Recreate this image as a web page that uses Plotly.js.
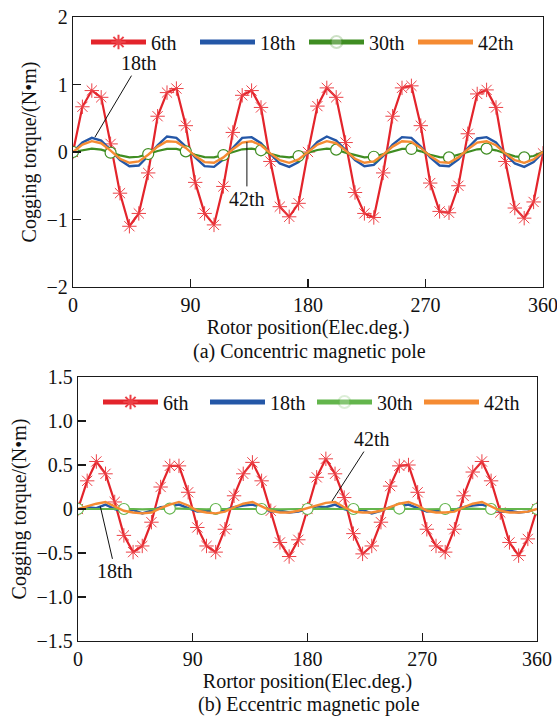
<!DOCTYPE html>
<html><head><meta charset="utf-8">
<script src="https://cdn.plot.ly/plotly-3.0.1.min.js"></script>
<style>html,body{margin:0;padding:0;background:#fff;}#chart{width:557px;height:717px;}</style>
</head><body><div id="chart"></div>
<script>
// rotor position samples (electrical degrees)
const angle = [0,7.2,14.4,21.6,28.8,36,43.2,50.4,57.6,64.8,72,79.2,86.4,93.6,100.8,108,115.2,122.4,129.6,136.8,144,151.2,158.4,165.6,172.8,180,187.2,194.4,201.6,208.8,216,223.2,230.4,237.6,244.8,252,259.2,266.4,273.6,280.8,288,295.2,302.4,309.6,316.8,324,331.2,338.4,345.6,352.8,360];
const seriesNames = ["6th","18th","30th","42th"];
const xTicks = [0,90,180,270,360];

// (a) Concentric magnetic pole
const concentric6th  = [0.00,0.67,0.91,0.81,0.12,-0.61,-1.10,-0.91,-0.31,0.53,0.88,0.94,0.39,-0.45,-0.91,-1.08,-0.51,0.29,0.84,0.91,0.66,-0.14,-0.81,-0.96,-0.76,0.00,0.68,0.95,0.81,0.14,-0.60,-0.91,-0.97,-0.31,0.53,0.95,0.98,0.39,-0.46,-0.88,-0.90,-0.50,0.27,0.86,0.92,0.66,-0.14,-0.83,-0.98,-0.74,-0.02];
const concentric18th = [0.00,0.14,0.21,0.17,0.03,-0.12,-0.21,-0.20,-0.06,0.10,0.23,0.21,0.08,-0.08,-0.21,-0.22,-0.11,0.06,0.21,0.22,0.13,-0.03,-0.17,-0.22,-0.15,0.00,0.15,0.23,0.17,0.03,-0.12,-0.21,-0.19,-0.06,0.11,0.22,0.21,0.08,-0.08,-0.20,-0.21,-0.11,0.06,0.20,0.22,0.14,-0.03,-0.17,-0.22,-0.15,0.00];
const concentric30th = [0.00,0.03,0.05,0.035,-0.01,-0.05,-0.08,-0.07,-0.03,0.015,0.045,0.045,0.01,-0.04,-0.075,-0.08,-0.045,0.00,0.04,0.05,0.025,-0.025,-0.065,-0.08,-0.06,-0.01,0.03,0.05,0.035,-0.01,-0.05,-0.08,-0.07,-0.03,0.015,0.045,0.045,0.01,-0.04,-0.075,-0.08,-0.045,0.00,0.04,0.05,0.025,-0.025,-0.065,-0.08,-0.06,0.00];
const concentric42th = [0.00,0.11,0.16,0.13,0.02,-0.10,-0.16,-0.14,-0.04,0.08,0.16,0.15,0.06,-0.06,-0.15,-0.16,-0.08,0.04,0.14,0.16,0.10,-0.02,-0.12,-0.16,-0.11,0.00,0.11,0.16,0.13,0.02,-0.10,-0.16,-0.14,-0.04,0.08,0.16,0.15,0.06,-0.06,-0.15,-0.16,-0.08,0.04,0.14,0.16,0.10,-0.02,-0.12,-0.16,-0.11,0.00];

// (b) Eccentric magnetic pole
const eccentric6th  = [0.00,0.32,0.54,0.40,0.08,-0.30,-0.49,-0.42,-0.15,0.25,0.49,0.49,0.19,-0.21,-0.42,-0.49,-0.23,0.15,0.40,0.53,0.32,-0.02,-0.38,-0.54,-0.35,0.00,0.36,0.57,0.40,0.13,-0.28,-0.51,-0.42,-0.15,0.26,0.49,0.50,0.19,-0.23,-0.42,-0.49,-0.23,0.15,0.42,0.54,0.32,-0.04,-0.38,-0.53,-0.34,0.00];
const eccentric18th = [0.00,0.02,0.01,0.05,0.00,-0.03,-0.01,-0.05,-0.02,0.02,0.03,0.05,0.01,-0.03,-0.02,-0.04,-0.01,0.02,0.04,0.05,0.02,-0.03,-0.02,-0.04,-0.03,0.00,0.03,0.02,0.05,0.00,-0.03,-0.01,-0.05,-0.02,0.02,0.03,0.05,0.01,-0.03,-0.02,-0.04,-0.01,0.02,0.04,0.05,0.02,-0.03,-0.02,-0.04,-0.03,0.00];
const eccentric30th = [0.00,0.00,0.005,0.005,0.00,0.00,0.00,-0.005,0.00,0.00,0.005,0.005,0.00,0.00,-0.005,0.00,0.00,0.00,0.005,0.005,0.00,0.00,-0.005,0.00,0.00,0.00,0.005,0.005,0.00,0.00,0.00,-0.005,0.00,0.00,0.005,0.005,0.00,0.00,-0.005,0.00,0.00,0.00,0.005,0.005,0.00,0.00,-0.005,0.00,0.00,0.00,0.00];
const eccentric42th = [0.00,0.03,0.06,0.08,0.03,-0.02,-0.04,-0.05,-0.04,0.01,0.05,0.08,0.04,-0.02,-0.04,-0.05,-0.03,0.02,0.06,0.08,0.03,-0.02,-0.04,-0.04,-0.02,0.01,0.04,0.07,0.08,0.02,-0.03,-0.04,-0.04,-0.02,0.02,0.06,0.08,0.04,-0.02,-0.04,-0.04,-0.03,0.02,0.06,0.08,0.03,-0.02,-0.04,-0.04,-0.03,0.00];

const FONT = 'Liberation Serif, Times New Roman, serif';
const RED = '#e3242b', BLUE = '#2457a7', ORANGE = '#f58b33';
const GREEN_A = '#3f8d22', GREEN_B = '#63b54c';

function traces(s6, s18, s30, s42, xa, ya, leg, green, every) {
  return [
    {x: angle, y: s6, name: seriesNames[0], xaxis: xa, yaxis: ya, legend: leg, mode: 'lines+markers',
     line: {color: RED, width: 2.2}, marker: {symbol: 'asterisk-open', size: 12, color: '#ec4046', line: {color: '#ec4046', width: 1}}},
    {x: angle, y: s18, name: seriesNames[1], xaxis: xa, yaxis: ya, legend: leg, mode: 'lines',
     line: {color: BLUE, width: 2.4}},
    {x: angle, y: s30, name: seriesNames[2], xaxis: xa, yaxis: ya, legend: leg, mode: 'lines+markers',
     line: {color: green, width: 2.2},
     marker: {symbol: 'circle', size: 11, color: '#ffffff', line: {color: green, width: 1.2},
              opacity: angle.map((a, i) => (i % every === 0 ? 1 : 0))}},
    {x: angle, y: s42, name: seriesNames[3], xaxis: xa, yaxis: ya, legend: leg, mode: 'lines',
     line: {color: ORANGE, width: 2.4}}
  ];
}

const data = [].concat(
  traces(concentric6th, concentric18th, concentric30th, concentric42th, 'x', 'y', 'legend', GREEN_A, 4),
  traces(eccentric6th, eccentric18th, eccentric30th, eccentric42th, 'x2', 'y2', 'legend2', GREEN_B, 5)
);

const axisBase = {showline: true, mirror: true, linecolor: '#1a1a1a', linewidth: 1.2,
  ticks: 'inside', ticklen: 8, tickwidth: 1.2, tickcolor: '#1a1a1a', showgrid: false, zeroline: false,
  ticklabeloverflow: 'allow', tickfont: {family: FONT, size: 20, color: '#111'}};

const legendBase = {xanchor: 'left', yanchor: 'middle', orientation: 'h', itemwidth: 55,
  entrywidthmode: 'pixels',
  bgcolor: 'rgba(0,0,0,0)', font: {family: FONT, size: 20}, itemsizing: 'constant'};

const layout = {
  width: 557, height: 717, margin: {l: 0, r: 0, t: 0, b: 0},
  paper_bgcolor: '#fff', plot_bgcolor: '#fff',
  font: {family: FONT, size: 20, color: '#111'},
  xaxis: Object.assign({}, axisBase, {domain: [73/557, 543/557], range: [0, 360], tickvals: xTicks, anchor: 'y',
    title: {text: 'Rotor position(Elec.deg.)', font: {family: FONT, size: 20}, standoff: 3}}),
  yaxis: Object.assign({}, axisBase, {domain: [1 - 287/717, 1 - 17/717], range: [-2, 2], tickvals: [-2,-1,0,1,2], anchor: 'x',
    title: {text: 'Cogging torque/(N\u2022m)', font: {family: FONT, size: 20}, standoff: 4}}),
  xaxis2: Object.assign({}, axisBase, {domain: [78/557, 537/557], range: [0, 360], tickvals: xTicks, anchor: 'y2',
    title: {text: 'Rortor position(Elec.deg.)', font: {family: FONT, size: 20}, standoff: 3}}),
  yaxis2: Object.assign({}, axisBase, {domain: [1 - 641/717, 1 - 377/717], range: [-1.5, 1.5],
    tickvals: [-1.5,-1,-0.5,0,0.5,1,1.5], ticktext: ['\u22121.5','\u22121.0','\u22120.5','0','0.5','1.0','1.5'], anchor: 'x2',
    title: {text: 'Cogging torque/(N\u2022m)', font: {family: FONT, size: 20}, standoff: 4}}),
  legend: Object.assign({}, legendBase, {x: 86/557, y: 1 - 42/717, entrywidth: 39}),
  legend2: Object.assign({}, legendBase, {x: 98/557, y: 1 - 402/717, entrywidth: 37}),
  annotations: [
    {xref: 'x', yref: 'y', x: 16.8, y: 0.22, text: '18th', showarrow: true, arrowhead: 0, arrowwidth: 1, arrowcolor: '#111', ax: 44, ay: -74, standoff: 0, font: {family: FONT, size: 20}},
    {xref: 'x', yref: 'y', x: 133.2, y: 0.15, text: '42th', showarrow: true, arrowhead: 0, arrowwidth: 1, arrowcolor: '#111', ax: 0, ay: 57, standoff: 0, font: {family: FONT, size: 20}},
    {xref: 'x2', yref: 'y2', x: 199.2, y: 0.09, text: '42th', showarrow: true, arrowhead: 0, arrowwidth: 1, arrowcolor: '#111', ax: 40, ay: -62, standoff: 0, font: {family: FONT, size: 20}},
    {xref: 'x2', yref: 'y2', x: 17.5, y: 0.03, text: '18th', showarrow: true, arrowhead: 0, arrowwidth: 1, arrowcolor: '#111', ax: 15, ay: 65, standoff: 0, font: {family: FONT, size: 20}},
    {xref: 'paper', yref: 'paper', x: 309/557, y: 1 - 351/717, text: '(a) Concentric magnetic pole', showarrow: false, xanchor: 'center', yanchor: 'middle', font: {family: FONT, size: 20}},
    {xref: 'paper', yref: 'paper', x: 309/557, y: 1 - 704/717, text: '(b) Eccentric magnetic pole', showarrow: false, xanchor: 'center', yanchor: 'middle', font: {family: FONT, size: 20}}
  ]
};

Plotly.newPlot('chart', data, layout, {staticPlot: true, displayModeBar: false});
</script>
</body></html>
